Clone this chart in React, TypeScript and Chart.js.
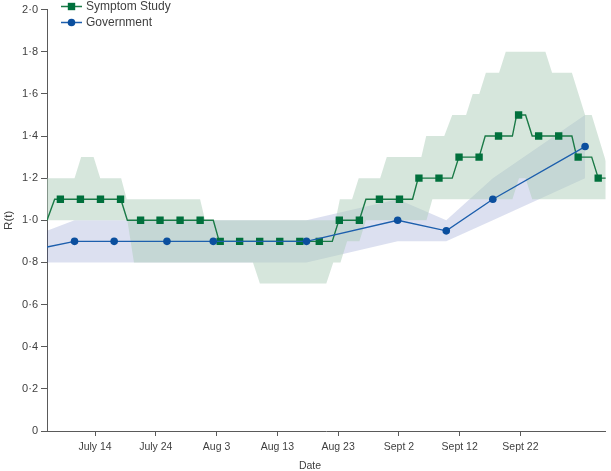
import React, { useEffect, useRef } from 'react';
import { Chart, registerables } from 'chart.js';

Chart.register(...registerables);

// x values are days counted from July 1 (July 14 = 13)
const xTickDays = [13, 23, 33, 43, 53, 63, 73, 83];
const xTickLabels = ['July 14', 'July 24', 'Aug 3', 'Aug 13', 'Aug 23', 'Sept 2', 'Sept 12', 'Sept 22'];
const xMinDay = 5.1;
const xMaxDay = 97.05;
const yTickValues = [0, 0.2, 0.4, 0.6, 0.8, 1.0, 1.2, 1.4, 1.6, 1.8, 2.0];

const seriesNames = ['Symptom Study', 'Government'];

// Symptom Study: markers
const symptomMarkerDays = [7.3, 10.6, 13.9, 17.2, 20.5, 23.7, 27.0, 30.3, 33.6, 36.8, 40.1, 43.4, 46.7, 49.9, 53.2, 56.5, 59.8, 63.1, 66.3, 69.6, 72.9, 76.2, 79.4, 82.7, 86.0, 89.3, 92.5, 95.8];
const symptomMarkerR = [1.1, 1.1, 1.1, 1.1, 1.0, 1.0, 1.0, 1.0, 0.9, 0.9, 0.9, 0.9, 0.9, 0.9, 1.0, 1.0, 1.1, 1.1, 1.2, 1.2, 1.3, 1.3, 1.4, 1.5, 1.4, 1.4, 1.3, 1.2];

// Symptom Study: stepped line
const symptomLineDays = [5.1, 6.36, 17.24, 18.32, 32.46, 33.44, 52.04, 53.13, 56.49, 57.58, 65.25, 66.18, 71.78, 72.87, 76.2, 77.21, 81.68, 82.38, 83.85, 84.94, 91.47, 92.28, 94.73, 95.81, 97.05];
const symptomLineR = [1.0, 1.1, 1.1, 1.0, 1.0, 0.9, 0.9, 1.0, 1.0, 1.1, 1.1, 1.2, 1.2, 1.3, 1.3, 1.4, 1.4, 1.5, 1.5, 1.4, 1.4, 1.3, 1.3, 1.2, 1.2];

// Symptom Study: uncertainty band
const symptomUpperDays = [5.1, 9.63, 10.72, 12.77, 13.86, 17.3, 18.22, 30.29, 31.11, 52.58, 53.29, 55.3, 56.39, 59.92, 61.01, 66.7, 67.5, 70.47, 71.78, 74.06, 75.15, 76.23, 77.32, 79.49, 80.59, 87.11, 88.21, 91.47, 93.64, 94.73, 97.05];
const symptomUpperR = [1.2, 1.2, 1.3, 1.3, 1.2, 1.2, 1.1, 1.1, 1.0, 1.0, 1.1, 1.1, 1.2, 1.2, 1.3, 1.3, 1.4, 1.4, 1.5, 1.5, 1.6, 1.6, 1.7, 1.7, 1.8, 1.8, 1.7, 1.7, 1.5, 1.5, 1.28];
const symptomLowerDays = [5.1, 18.32, 19.41, 38.99, 40.13, 51.06, 52.2, 53.39, 54.48, 56.5, 57.58, 67.54, 68.51, 81.68, 82.76, 83.85, 84.94, 97.05];
const symptomLowerR = [1.0, 1.0, 0.8, 0.8, 0.7, 0.7, 0.8, 0.8, 0.9, 0.9, 1.0, 1.0, 1.1, 1.1, 1.2, 1.2, 1.1, 1.1];

// Government
const govDays = [5.1, 9.63, 16.15, 24.84, 32.46, 47.8, 62.8, 70.8, 78.46, 93.64];
const govR = [0.873, 0.9, 0.9, 0.9, 0.9, 0.9, 1.0, 0.95, 1.1, 1.35];
const govLower = [0.8, 0.8, 0.8, 0.8, 0.8, 0.8, 0.9, 0.9, 1.0, 1.2];
const govUpper = [0.95, 1.0, 1.0, 1.0, 1.0, 1.0, 1.1, 1.0, 1.2, 1.5];

const GREEN = '#00703c';
const GREEN_LINE = '#1b7a47';
const BLUE = '#0b4f9e';
const BLUE_LINE = '#1d5fad';
const GREEN_FILL = 'rgba(173,205,185,0.5)';
const BLUE_FILL = 'rgba(40,60,160,0.16)';
const AXIS = '#5a5a5a';
const TEXT = '#3f3f3f';
const FONT = "'Liberation Sans', Arial, sans-serif";

const zip = (xs: number[], ys: number[]) => xs.map((x, i) => ({ x, y: ys[i] }));

const overlayPlugin = {
  id: 'overlayText',
  afterDraw(chart: any) {
    const ctx = chart.ctx;
    ctx.save();
    // legend
    const lx0 = 61, lx1 = 82, mx = 71.5;
    const rows = [
      { y: 6.5, color: GREEN, line: GREEN_LINE, shape: 'rect', name: seriesNames[0] },
      { y: 22.5, color: BLUE, line: BLUE_LINE, shape: 'circle', name: seriesNames[1] },
    ];
    for (const r of rows) {
      ctx.strokeStyle = r.line;
      ctx.lineWidth = 1.5;
      ctx.beginPath();
      ctx.moveTo(lx0, r.y);
      ctx.lineTo(lx1, r.y);
      ctx.stroke();
      ctx.fillStyle = r.color;
      if (r.shape === 'rect') {
        ctx.fillRect(mx - 3.7, r.y - 3.7, 7.4, 7.4);
      } else {
        ctx.beginPath();
        ctx.arc(mx, r.y, 3.8, 0, Math.PI * 2);
        ctx.fill();
      }
      ctx.fillStyle = TEXT;
      ctx.font = `12px ${FONT}`;
      ctx.textAlign = 'left';
      ctx.textBaseline = 'middle';
      ctx.fillText(r.name, 86, r.y + 0.5);
    }
    // x axis title
    ctx.font = `10.5px ${FONT}`;
    ctx.textAlign = 'center';
    ctx.textBaseline = 'middle';
    ctx.fillStyle = TEXT;
    ctx.fillText('Date', 310, 466);
    ctx.restore();
  },
};

export default function App() {
  const ref = useRef<HTMLCanvasElement | null>(null);

  useEffect(() => {
    if (!ref.current) return;
    const chart = new Chart(ref.current, {
      type: 'line',
      data: {
        datasets: [
          {
            label: seriesNames[1],
            data: zip(govDays, govR),
            borderColor: BLUE_LINE,
            borderWidth: 1.4,
            backgroundColor: BLUE,
            pointBackgroundColor: BLUE,
            pointBorderWidth: 0,
            pointRadius: (c: any) => (c.dataIndex === 0 ? 0 : 3.8),
            pointStyle: 'circle',
            fill: false,
            order: 2,
          },
          {
            label: seriesNames[0] + ' markers',
            data: zip(symptomMarkerDays, symptomMarkerR),
            showLine: false,
            pointStyle: 'rect',
            pointRadius: 5.2,
            pointBackgroundColor: GREEN,
            pointBorderWidth: 0,
            fill: false,
            order: 3,
          },
          {
            label: seriesNames[0],
            data: zip(symptomLineDays, symptomLineR),
            borderColor: GREEN_LINE,
            borderWidth: 1.4,
            pointRadius: 0,
            fill: false,
            order: 4,
          },
          {
            label: 'Symptom upper',
            data: zip(symptomUpperDays, symptomUpperR),
            borderWidth: 0,
            borderColor: 'rgba(0,0,0,0)',
            pointRadius: 0,
            backgroundColor: GREEN_FILL,
            fill: '+1',
            order: 8,
          },
          {
            label: 'Symptom lower',
            data: zip(symptomLowerDays, symptomLowerR),
            borderWidth: 0,
            borderColor: 'rgba(0,0,0,0)',
            pointRadius: 0,
            fill: false,
            order: 8,
          },
          {
            label: 'Government upper',
            data: zip(govDays, govUpper),
            borderWidth: 0,
            borderColor: 'rgba(0,0,0,0)',
            pointRadius: 0,
            backgroundColor: BLUE_FILL,
            fill: '+1',
            order: 9,
          },
          {
            label: 'Government lower',
            data: zip(govDays, govLower),
            borderWidth: 0,
            borderColor: 'rgba(0,0,0,0)',
            pointRadius: 0,
            fill: false,
            order: 9,
          },
        ],
      },
      options: {
        animation: false,
        responsive: false,
        devicePixelRatio: 1,
        layout: { padding: { top: 7, right: 0, left: 0, bottom: 0 } },
        plugins: {
          legend: { display: false },
          tooltip: { enabled: false },
          title: { display: false },
        },
        elements: { line: { tension: 0 } },
        scales: {
          x: {
            type: 'linear',
            min: xMinDay,
            max: xMaxDay,
            afterBuildTicks: (scale: any) => {
              scale.ticks = xTickDays.map((v) => ({ value: v }));
            },
            afterFit: (scale: any) => {
              scale.height = 40;
            },
            ticks: {
              autoSkip: false,
              maxRotation: 0,
              padding: 5,
              color: TEXT,
              font: { family: FONT, size: 10.5 },
              callback: (v: any) => {
                const i = xTickDays.indexOf(Number(v));
                return i >= 0 ? xTickLabels[i] : '';
              },
            },
            grid: { drawOnChartArea: false, drawTicks: true, tickLength: 5, color: AXIS },
            border: { display: true, color: AXIS, width: 1 },
            title: { display: false },
          },
          y: {
            type: 'linear',
            min: 0,
            max: 2,
            afterBuildTicks: (scale: any) => {
              scale.ticks = yTickValues.map((v) => ({ value: v }));
            },
            afterFit: (scale: any) => {
              scale.width = 47;
            },
            ticks: {
              padding: 3,
              color: TEXT,
              font: { family: FONT, size: 11 },
              callback: (v: any) => (Number(v) === 0 ? '0' : Number(v).toFixed(1).replace('.', '\u00B7')),
            },
            grid: { drawOnChartArea: false, drawTicks: true, tickLength: 6, color: AXIS },
            border: { display: true, color: AXIS, width: 1 },
            title: {
              display: true,
              text: 'R(t)',
              color: TEXT,
              font: { family: FONT, size: 11.5 },
              padding: { top: 1.5, bottom: 0 },
            },
          },
        },
      },
      plugins: [overlayPlugin],
    } as any);
    return () => chart.destroy();
  }, []);

  return (
    <div style={{ position: 'fixed', left: 0, top: 0, width: 611, height: 471, background: '#fff' }}>
      <canvas ref={ref} width={611} height={471} style={{ display: 'block', width: 611, height: 471 }} />
    </div>
  );
}
